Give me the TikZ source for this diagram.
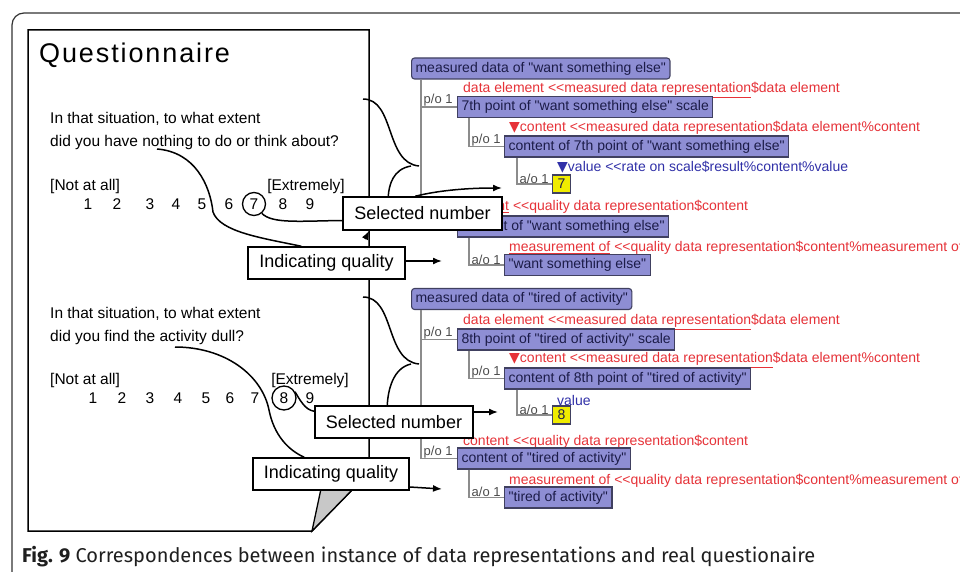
\documentclass[tikz,border=0pt]{standalone}
\usepackage{fontspec}
\setmainfont{Liberation Sans}
\newfontfamily\tf{Liberation Sans}
\newfontfamily\qtitle{Liberation Sans}[LetterSpace=7]
\newfontfamily\capfont{Fira Sans}
\newfontfamily\symf{DejaVu Sans}
\usetikzlibrary{arrows.meta}
\definecolor{nodefill}{RGB}{142,142,212}
\definecolor{nodeborder}{RGB}{64,64,96}
\definecolor{nodetext}{RGB}{28,28,72}
\definecolor{lblred}{RGB}{230,50,56}
\definecolor{lblblue}{RGB}{48,48,168}
\definecolor{treegray}{RGB}{140,140,140}
\definecolor{yel}{RGB}{240,236,0}
\definecolor{foldgray}{RGB}{200,200,200}
\newcommand\redul[1]{{\color{lblred}\underline{#1}}}
\begin{document}
\begin{tikzpicture}[x=1pt,y=-1pt,
  tnode/.style={draw=nodeborder, fill=nodefill, line width=1.1pt, text=nodetext,
    font=\tf\fontsize{14}{16}\selectfont, inner xsep=4pt, inner ysep=0pt,
    minimum height=21pt, anchor=west},
  troot/.style={tnode, rounded corners=3pt},
  ynode/.style={draw=nodeborder, fill=yel, line width=1.1pt, text=nodetext,
    font=\tf\fontsize{14}{16}\selectfont, inner sep=0pt, minimum width=18pt,
    minimum height=18pt, anchor=west},
  rlbl/.style={text=lblred, font=\tf\fontsize{14}{16}\selectfont, inner sep=0pt, anchor=west},
  blbl/.style={rlbl, text=lblblue},
  rel/.style={text=black!70, font=\tf\fontsize{13}{15}\selectfont, inner sep=0.5pt, anchor=south west},
  tline/.style={draw=treegray, line width=1.5pt},
  qtext/.style={font=\fontsize{15.5}{18}\selectfont, inner sep=0pt, anchor=base west},
  num/.style={font=\fontsize{15.5}{18}\selectfont, inner sep=0pt, anchor=base},
  ring/.style={circle, draw, line width=1.3pt, minimum size=23pt, inner sep=0pt,
    font=\fontsize{15.5}{18}\selectfont},
  callout/.style={draw=black, fill=white, line width=1.5pt,
    font=\fontsize{18}{21}\selectfont, inner sep=0pt},
  conn/.style={line width=1.5pt, black},
  arr/.style={conn, -{Latex[length=9pt,width=7pt]}}
]
\clip (0,0) rectangle (960,572);
\fill[white] (0,0) rectangle (960,572);
% outer frame
\draw[line width=1.2pt, black!80, rounded corners=12pt] (12,590) -- (12,13) -- (990,13);

% ---------- tree 1 ----------
\node[troot] (r1) at (411,68.5) {measured data of "want something else"};
\node[rlbl] (l11) at (463,90) {\redul{data element <<measured data representation}\$data element};
\node[tnode] (n11) at (457,107) {7th point of "want something else" scale};
\node[rlbl] (l12) at (509,129) {{\symf ▼}\redul{content <<measured data representation}\$data element\%content};
\node[tnode] (n12) at (504,146.5) {content of 7th point of "want something else"};
\node[blbl] (l13) at (557,167) {{\symf ▼}value <<rate on scale\$result\%content\%value};
\node[ynode] (n13) at (552,184) {7};
\node[rlbl] (l14) at (463,207) {\redul{content} <<quality data representation\$content};
\node[tnode] (n14) at (457,226.5) {content of "want something else"};
\node[rlbl] (l15) at (509,248) {\redul{measurement of} <<quality data representation\$content\%measurement of};
\node[tnode] (n15) at (504,265) {"want something else"};
\draw[tline] ([xshift=10pt]r1.south west) |- (n11.west);
\draw[tline] ([xshift=10pt]r1.south west) |- (n14.west);
\draw[tline] ([xshift=12pt]n11.south west) |- (n12.west);
\draw[tline] ([xshift=13pt]n12.south west) |- (n13.west);
\draw[tline] ([xshift=12pt]n14.south west) |- (n15.west);
\node[rel] (p11) at (423,107) {p/o 1};
\node[rel] (p14) at (423,226.5) {p/o 1};
\node[rel] (p12) at (471,146.5) {p/o 1};
\node[rel] (a13) at (519,184) {a/o 1};
\node[rel] (a15) at (471,265) {a/o 1};

% ---------- tree 2 ----------
\node[troot] (r2) at (411,299) {measured data of "tired of activity"};
\node[rlbl] (l21) at (463,322) {\redul{data element <<measured data representation}\$data element};
\node[tnode] (n21) at (457,339.5) {8th point of "tired of activity" scale};
\node[rlbl] (l22) at (509,360) {{\symf ▼}\redul{content <<measured data representation}\$data element\%content};
\node[tnode] (n22) at (504,378.5) {content of 8th point of "tired of activity"};
\node[blbl] (l23) at (557,400) {value};
\node[ynode] (n23) at (552,415) {8};
\node[rlbl] (l24) at (463,442) {\redul{content} <<quality data representation\$content};
\node[tnode] (n24) at (457,458.5) {content of "tired of activity"};
\node[rlbl] (l25) at (509,481) {\redul{measurement of} <<quality data representation\$content\%measurement of};
\node[tnode] (n25) at (504,497.5) {"tired of activity"};
\draw[tline] ([xshift=10pt]r2.south west) |- (n21.west);
\draw[tline] ([xshift=10pt]r2.south west) |- (n24.west);
\draw[tline] ([xshift=12pt]n21.south west) |- (n22.west);
\draw[tline] ([xshift=13pt]n22.south west) |- (n23.west);
\draw[tline] ([xshift=12pt]n24.south west) |- (n25.west);
\node[rel] (p21) at (423,339.5) {p/o 1};
\node[rel] (p24) at (423,458.5) {p/o 1};
\node[rel] (p22) at (471,378.5) {p/o 1};
\node[rel] (a23) at (519,415) {a/o 1};
\node[rel] (a25) at (471,497.5) {a/o 1};

% ---------- questionnaire sheet ----------
\draw[line width=1.5pt, line join=miter] (28,30) -- (369,30) -- (369,472.6) -- (312,531) -- (28,531) -- cycle;
\filldraw[fill=foldgray, draw=black, line width=1.3pt, line join=miter] (312,531) -- (325,470) -- (369,472.6) -- cycle;
\node[anchor=base west, inner sep=0pt, font=\qtitle\fontsize{27}{30}\selectfont] (title) at (39,63) {Questionnaire};

\node[qtext] (q1a) at (50,123.5) {In that situation, to what extent};
\node[qtext] (q1b) at (50,146.5) {did you have nothing to do or think about?};
\node[qtext] (q1n) at (50,190.5) {[Not at all]};
\node[qtext, anchor=base east] (q1x) at (345,190.5) {[Extremely]};
\foreach \x/\n in {88/1,117/2,150/3,176/4,202/5,229/6,283/8,310/9}
  \node[num] (qa\n) at (\x,209.5) {\n};
\node[ring] (c7) at (254,204) {7};

\node[qtext] (q2a) at (50,318) {In that situation, to what extent};
\node[qtext] (q2b) at (50,341) {did you find the activity dull?};
\node[qtext] (q2n) at (50,384.5) {[Not at all]};
\node[qtext, anchor=base east] (q2x) at (349,384.5) {[Extremely]};
\foreach \x/\n in {93/1,122/2,150/3,178/4,206/5,230/6,255/7,310/9}
  \node[num] (qb\n) at (\x,403.5) {\n};
\node[ring, minimum size=24pt] (c8) at (284,398) {8};

% ---------- callout boxes ----------
\node[callout, minimum width=159pt, minimum height=33pt] (sel1) at (422.5,213.5) {Selected number};
\node[callout, minimum width=157pt, minimum height=32pt] (iq1) at (326.5,263) {Indicating quality};
\node[callout, minimum width=158pt, minimum height=32pt] (sel2) at (394,422) {Selected number};
\node[callout, minimum width=156pt, minimum height=32pt] (iq2) at (331,474) {Indicating quality};

% ---------- connectors, question 1 ----------
\coordinate (s1) at (157,149);
\coordinate (b1s) at (363,99);
\coordinate (b1t) at (419,166);
\coordinate (b1m) at (411,166);
\coordinate (t1) at (502,188);
\coordinate (h1) at (442,261);
\coordinate (k1) at (365,239);
\draw[conn] (s1) .. controls (195,152) and (210,185) .. (213,212)
  .. controls (220,232) and (262,238) .. ([xshift=54pt]iq1.north west);
\draw[conn] (c7.-50) .. controls (272,224) and (300,221) .. ([yshift=-7pt]sel1.west);
\draw[conn] (b1s) .. controls (395,99) and (385,163) .. (b1t);
\draw[conn] (b1m) .. controls (393,169) and (389,185) .. ([xshift=46pt]sel1.north west);
\draw[arr] ([xshift=73pt]sel1.north west) .. controls (440,190) and (470,188) .. (t1);
\draw[arr] ([yshift=2pt]iq1.east) -- (h1);
\draw[arr] (k1) -- ([xshift=27pt]sel1.south west);

% ---------- connectors, question 2 ----------
\coordinate (s2) at (175,347);
\coordinate (b2s) at (363,297);
\coordinate (b2t) at (419,364);
\coordinate (b2m) at (411,364);
\coordinate (t2) at (498,412);
\coordinate (h2) at (442,489);
\draw[conn] (s2) .. controls (225,347) and (262,375) .. (269,410)
  .. controls (274,435) and (288,450) .. ([xshift=52pt]iq2.north west);
\draw[conn] (c8.30) .. controls (300,400) and (305,410) .. ([yshift=-6pt]sel2.north west);
\draw[conn] (b2s) .. controls (395,297) and (385,361) .. (b2t);
\draw[conn] (b2m) .. controls (393,368) and (388,390) .. ([xshift=73pt]sel2.north west);
\draw[arr] ([yshift=10pt]sel2.east) -- (t2);
\draw[arr] ([yshift=-13pt]iq2.east) -- (h2);

% ---------- caption ----------
\node[anchor=base west, inner sep=0pt, text=black!88, font=\capfont\fontsize{20}{23}\selectfont] (cap) at (22,562)
  {\textbf{Fig. 9} Correspondences between instance of data representations and real questionaire};
\end{tikzpicture}
\end{document}
